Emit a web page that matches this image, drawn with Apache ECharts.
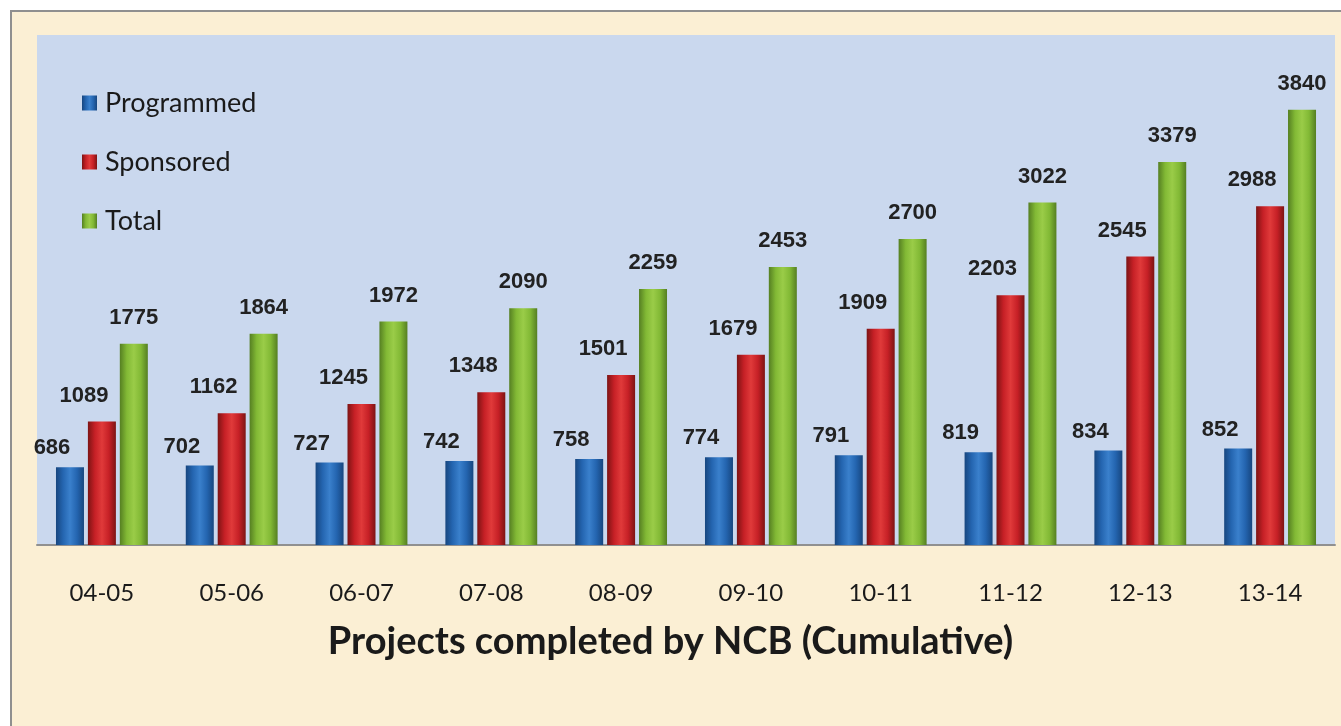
<!DOCTYPE html>
<html>
<head>
<meta charset="utf-8">
<script src="https://cdn.jsdelivr.net/npm/echarts@6/dist/echarts.min.js"></script>
<style>
  html, body { margin: 0; padding: 0; background: #fff; }
  #frame {
    position: absolute; left: 10px; top: 10px; width: 1400px; height: 800px;
    background: #fbefd4; border: 2px solid #8f8f8f; box-sizing: border-box;
  }
  #main { position: absolute; left: 0; top: 0; width: 1341px; height: 726px; }
</style>
</head>
<body>
<div id="frame"></div>
<div id="main"></div>
<script>
// 数据
var years = ['04-05', '05-06', '06-07', '07-08', '08-09', '09-10', '10-11', '11-12', '12-13', '13-14'];
var programmed = [686, 702, 727, 742, 758, 774, 791, 819, 834, 852];
var sponsored = [1089, 1162, 1245, 1348, 1501, 1679, 1909, 2203, 2545, 2988];
var total = [1775, 1864, 1972, 2090, 2259, 2453, 2700, 3022, 3379, 3840];

// 柱子渐变色
function barColor(edge, mid, light) {
  return new echarts.graphic.LinearGradient(0, 0, 1, 0, [
    { offset: 0, color: edge },
    { offset: 0.25, color: mid },
    { offset: 0.5, color: light },
    { offset: 0.75, color: mid },
    { offset: 1, color: edge }
  ]);
}

function labelStyle(dx, dist) {
  return {
    show: true,
    position: 'top',
    distance: dist,
    offset: [dx, 0],
    fontFamily: 'Liberation Sans',
    fontWeight: 'bold',
    fontSize: 22,
    color: '#222'
  };
}

var myChart = echarts.init(document.getElementById('main'));
var option = {
  title: {
    text: 'Projects completed by NCB (Cumulative)',
    left: 'center',
    top: 618,
    textStyle: { fontFamily: 'Lato', fontWeight: 'bold', fontSize: 38, color: '#1a1a1a' }
  },
  legend: {
    orient: 'vertical',
    left: 77,
    top: 83,
    itemWidth: 15,
    itemHeight: 15,
    itemGap: 29,
    icon: 'rect',
    data: ['Programmed', 'Sponsored', 'Total'],
    textStyle: { fontFamily: 'Lato', fontSize: 27, color: '#1a1a1a', lineHeight: 30, padding: [0, 0, 0, 3] }
  },
  grid: {
    left: 37, right: 6, top: 35, bottom: 181,
    show: true,
    backgroundColor: '#cad8ee',
    borderWidth: 0
  },
  xAxis: {
    type: 'category',
    data: years,
    axisTick: { show: false },
    axisLine: { lineStyle: { color: '#909090', width: 2 } },
    axisLabel: { fontFamily: 'Lato', fontSize: 24, color: '#1a1a1a', margin: 36 }
  },
  yAxis: {
    type: 'value',
    min: 0,
    max: 4500,
    show: false,
    splitLine: { show: false }
  },
  series: [
    {
      name: 'Programmed', type: 'bar', data: programmed,
      barWidth: 28, barGap: '14%',
      itemStyle: { color: barColor('#17467f', '#2465b0', '#3a80cc') },
      label: labelStyle(-18, 8)
    },
    {
      name: 'Sponsored', type: 'bar', data: sponsored,
      barWidth: 28, barGap: '14%',
      itemStyle: { color: barColor('#7d1414', '#c62026', '#e03a3a') },
      label: labelStyle(-18, 15)
    },
    {
      name: 'Total', type: 'bar', data: total,
      barWidth: 28, barGap: '14%',
      itemStyle: { color: barColor('#557f22', '#82b935', '#9acc48') },
      label: labelStyle(0, 15)
    }
  ]
};
myChart.setOption(option);
</script>
</body>
</html>
